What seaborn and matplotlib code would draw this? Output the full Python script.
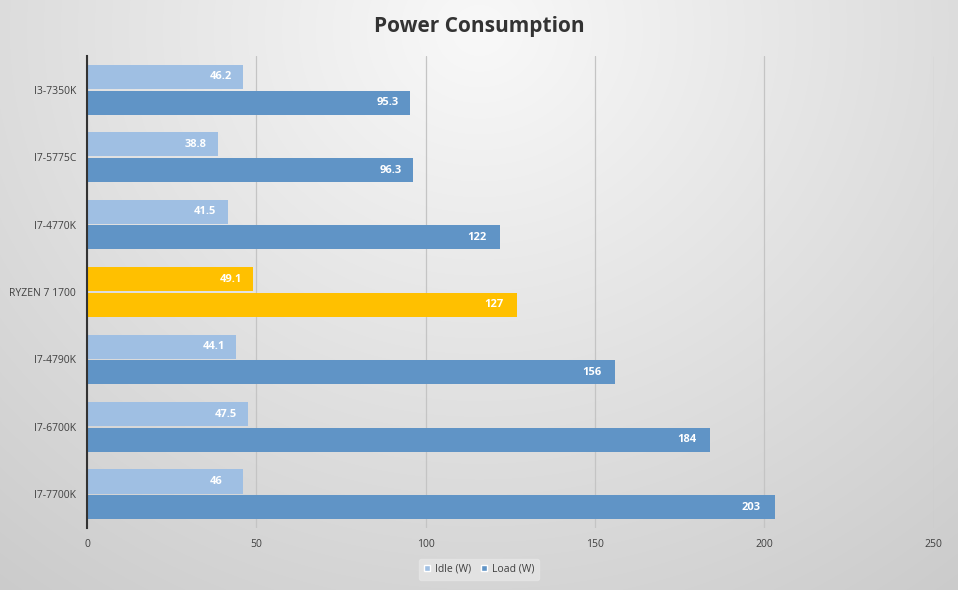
import numpy as np
import pandas as pd
import matplotlib
matplotlib.use("Agg")
import matplotlib.pyplot as plt
from matplotlib.patches import Patch
import seaborn as sns

cpus = ["I3-7350K", "I7-5775C", "I7-4770K", "RYZEN 7 1700", "I7-4790K", "I7-6700K", "I7-7700K"]
idle = [46.2, 38.8, 41.5, 49.1, 44.1, 47.5, 46]
load = [95.3, 96.3, 122, 127, 156, 184, 203]
series = ["Idle (W)", "Load (W)"]
highlight = "RYZEN 7 1700"

sns.set_theme(style="white")
plt.rcParams['font.family'] = ['Open Sans', 'DejaVu Sans']

df = pd.DataFrame({
    "cpu": cpus * 2,
    "series": [series[0]] * len(cpus) + [series[1]] * len(cpus),
    "value": idle + load,
})

fig = plt.figure(figsize=(9.58, 5.9), dpi=100)

# radial gradient background
bg = fig.add_axes([0, 0, 1, 1], zorder=-10)
yy, xx = np.mgrid[0:590, 0:958]
d = np.sqrt(((xx - 479) / 650.0) ** 2 + ((yy - 30) / 600.0) ** 2)
shade = np.clip(0.975 - 0.15 * d, 0.80, 0.975)
bg.imshow(np.dstack([shade, shade, shade]), aspect="auto", extent=[0, 1, 0, 1])
bg.axis("off")

ax = fig.add_axes([0.0908, 0.105, 0.884, 0.80])
ax.set_facecolor("none")
idle_c = "#9fbfe3"
load_c = "#6094c6"
sns.barplot(data=df, y="cpu", x="value", hue="series", order=cpus,
            hue_order=series, palette=[idle_c, load_c], width=0.76, gap=0.06,
            saturation=1, linewidth=0, orient="h", ax=ax, legend=False, zorder=3)

# recolor highlighted CPU
for cont in ax.containers:
    for i, bar in enumerate(cont):
        if cpus[i] == highlight:
            bar.set_facecolor("#ffc000")

for cont, vals in zip(ax.containers, [idle, load]):
    ax.bar_label(cont, labels=[f"{v:g}" for v in vals], padding=-24,
                 color="white", fontsize=8, fontweight="bold")

ax.set_xlim(0, 250)
ax.set_xticks([0, 50, 100, 150, 200, 250])
ax.xaxis.grid(True, color="#c4c4c4", linewidth=0.9, zorder=0)
ax.yaxis.grid(False)
ax.set_axisbelow(True)
for s in ["top", "right", "bottom"]:
    ax.spines[s].set_visible(False)
ax.spines["left"].set_color("#333333")
ax.spines["left"].set_linewidth(1.5)
ax.spines["left"].set_zorder(5)
ax.tick_params(axis="both", length=0, labelsize=7.5, colors="#404040", pad=8)
ax.set_xlabel("")
ax.set_ylabel("")

fig.text(0.5, 0.955, "Power Consumption", ha="center", va="center",
         fontsize=15, fontweight="bold", color="#333333")

handles = [Patch(facecolor=idle_c, label=series[0]), Patch(facecolor=load_c, label=series[1])]
leg = fig.legend(handles=handles, loc="center", bbox_to_anchor=(0.5, 0.035), ncol=2,
                 fontsize=7.5, frameon=True, handlelength=0.6, handleheight=0.6,
                 columnspacing=1.0, handletextpad=0.4, borderpad=0.5)
leg.get_frame().set_facecolor("#e6e6e6")
leg.get_frame().set_edgecolor("#e6e6e6")
for t in leg.get_texts():
    t.set_color("#404040")

fig.savefig("out.png", dpi=100)
